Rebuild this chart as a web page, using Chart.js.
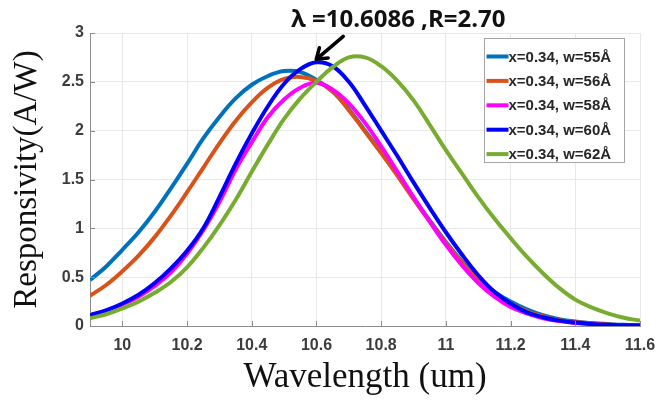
<!DOCTYPE html>
<html lang="en">
<head>
  <meta charset="UTF-8">
  <title>Responsivity vs Wavelength</title>
  <script src="https://cdn.jsdelivr.net/npm/chart.js"></script>
  <style>
    html, body { margin: 0; padding: 0; background: #fff; }
    #wrap { width: 657px; height: 403px; }
  </style>
</head>
<body>
  <div id="wrap"><canvas id="respChart" width="657" height="403"></canvas></div>

  <script>
    // Wavelength samples (um)
    const wavelength = [9.90, 9.95, 10.00, 10.05, 10.10, 10.15, 10.20, 10.25, 10.30, 10.35,
      10.40, 10.45, 10.50, 10.55, 10.60, 10.65, 10.70, 10.75, 10.80, 10.85,
      10.90, 10.95, 11.00, 11.05, 11.10, 11.15, 11.20, 11.25, 11.30, 11.35,
      11.40, 11.45, 11.50, 11.55, 11.60];

    // Responsivity (A/W)
    const w55 = [0.47, 0.61, 0.78, 0.96, 1.17, 1.41, 1.66, 1.92, 2.14, 2.33,
      2.47, 2.56, 2.61, 2.60, 2.52, 2.40, 2.22, 2.00, 1.78, 1.55,
      1.31, 1.08, 0.86, 0.66, 0.48, 0.35, 0.25, 0.17, 0.11, 0.07,
      0.045, 0.03, 0.02, 0.012, 0.008];
    const w56 = [0.31, 0.42, 0.56, 0.72, 0.91, 1.13, 1.37, 1.62, 1.87, 2.10,
      2.29, 2.44, 2.53, 2.55, 2.51, 2.40, 2.21, 1.99, 1.77, 1.54,
      1.30, 1.07, 0.85, 0.65, 0.47, 0.33, 0.23, 0.15, 0.10, 0.06,
      0.04, 0.025, 0.015, 0.01, 0.006];
    const w58 = [0.11, 0.16, 0.22, 0.30, 0.41, 0.55, 0.74, 0.98, 1.27, 1.60,
      1.88, 2.14, 2.32, 2.44, 2.49, 2.42, 2.28, 2.08, 1.84, 1.58,
      1.32, 1.07, 0.83, 0.62, 0.44, 0.30, 0.195, 0.13, 0.08, 0.05,
      0.03, 0.018, 0.01, 0.006, 0.004];
    const w60 = [0.11, 0.16, 0.23, 0.32, 0.44, 0.59, 0.77, 1.00, 1.32, 1.66,
      1.97, 2.25, 2.48, 2.63, 2.70, 2.66, 2.50, 2.26, 2.00, 1.74,
      1.47, 1.21, 0.96, 0.73, 0.52, 0.35, 0.23, 0.14, 0.09, 0.055,
      0.035, 0.02, 0.012, 0.008, 0.005];
    const w62 = [0.08, 0.12, 0.18, 0.25, 0.34, 0.45, 0.60, 0.80, 1.03, 1.29,
      1.58, 1.86, 2.12, 2.33, 2.50, 2.65, 2.75, 2.75, 2.66, 2.51,
      2.31, 2.06, 1.80, 1.56, 1.32, 1.10, 0.90, 0.71, 0.54, 0.39,
      0.27, 0.19, 0.13, 0.085, 0.055];

    const seriesValues = [w55, w56, w58, w60, w62];
    const seriesLabels = ['x=0.34, w=55Å', 'x=0.34, w=56Å', 'x=0.34, w=58Å', 'x=0.34, w=60Å', 'x=0.34, w=62Å'];
    const seriesColors = ['#0072BD', '#D95319', '#FF00FF', '#0000FF', '#77AC30'];

    const xTicks = [10, 10.2, 10.4, 10.6, 10.8, 11, 11.2, 11.4, 11.6];
    const yTicks = [0, 0.5, 1, 1.5, 2, 2.5, 3];

    // marked peak
    const peakX = 10.6086;
    const peakY = 2.70;

    const tickFont = { family: "'Liberation Sans', Arial, sans-serif", size: 16, weight: 'bold' };
    const titleFamily = "'Liberation Serif', 'Times New Roman', serif";

    // inward ticks, legend box and the peak annotation
    const extras = {
      id: 'extras',
      afterDraw(chart) {
        const { ctx, chartArea: a, scales: { x, y } } = chart;
        ctx.save();

        ctx.strokeStyle = '#8c8c8c';
        ctx.lineWidth = 1;
        ctx.beginPath();
        xTicks.forEach(v => {
          const px = Math.round(x.getPixelForValue(v)) + 0.5;
          ctx.moveTo(px, a.bottom);
          ctx.lineTo(px, a.bottom - 5);
        });
        yTicks.forEach(v => {
          const py = Math.round(y.getPixelForValue(v)) + 0.5;
          ctx.moveTo(a.left, py);
          ctx.lineTo(a.left + 5, py);
        });
        ctx.stroke();

        // legend
        const boxW = 140, boxH = 124;
        const bx = Math.round(a.right - 16 - boxW) + 0.5;
        const by = Math.round(a.top + 5) + 0.5;
        ctx.fillStyle = '#fff';
        ctx.fillRect(bx, by, boxW, boxH);
        ctx.strokeStyle = '#a6a6a6';
        ctx.lineWidth = 1;
        ctx.strokeRect(bx, by, boxW, boxH);
        ctx.font = "bold 15px 'Liberation Sans', Arial, sans-serif";
        ctx.textBaseline = 'middle';
        ctx.textAlign = 'left';
        chart.data.datasets.forEach((ds, i) => {
          const ry = by + 18 + i * 24.4;
          ctx.strokeStyle = ds.borderColor;
          ctx.lineWidth = 4;
          ctx.beginPath();
          ctx.moveTo(bx + 2, ry);
          ctx.lineTo(bx + 24, ry);
          ctx.stroke();
          ctx.fillStyle = '#262626';
          ctx.fillText(ds.label, bx + 24, ry + 1);
        });

        // annotation
        const px = x.getPixelForValue(peakX);
        const py = y.getPixelForValue(peakY);
        const tipX = px - 3, tipY = py - 3;
        const tailX = px + 24, tailY = py - 26;
        ctx.strokeStyle = '#000';
        ctx.lineWidth = 3.5;
        ctx.lineCap = 'round';
        ctx.beginPath();
        ctx.moveTo(tailX, tailY);
        ctx.lineTo(tipX, tipY);
        const ang = Math.atan2(tipY - tailY, tipX - tailX);
        const hl = 12;
        ctx.moveTo(tipX, tipY);
        ctx.lineTo(tipX - hl * Math.cos(ang - 0.6), tipY - hl * Math.sin(ang - 0.6));
        ctx.moveTo(tipX, tipY);
        ctx.lineTo(tipX - hl * Math.cos(ang + 0.6), tipY - hl * Math.sin(ang + 0.6));
        ctx.stroke();

        ctx.fillStyle = '#111';
        ctx.font = "bold 24px 'Open Sans', 'Noto Sans', sans-serif";
        ctx.textAlign = 'center';
        ctx.textBaseline = 'alphabetic';
        ctx.fillText('λ =' + peakX.toFixed(4) + ' ,R=' + peakY.toFixed(2), px + 79, py - 35);

        ctx.restore();
      }
    };

    new Chart(document.getElementById('respChart'), {
      type: 'line',
      data: {
        datasets: seriesValues.map((vals, i) => ({
          label: seriesLabels[i],
          data: wavelength.map((w, k) => ({ x: w, y: vals[k] })),
          borderColor: seriesColors[i],
          backgroundColor: seriesColors[i],
          borderWidth: 4,
          pointRadius: 0,
          fill: false,
          tension: 0.4,
          order: seriesValues.length - 1 - i
        }))
      },
      options: {
        responsive: false,
        animation: false,
        devicePixelRatio: 1,
        layout: { padding: { top: 33, right: 17, left: 0, bottom: 0 } },
        plugins: {
          legend: { display: false },
          tooltip: { enabled: false }
        },
        scales: {
          x: {
            type: 'linear',
            min: 9.9,
            max: 11.6,
            afterBuildTicks: s => { s.ticks = xTicks.map(v => ({ value: v })); },
            afterFit: s => { s.height = 77; s.paddingRight = 0; },
            grid: { color: '#e8e8e8', drawTicks: false },
            border: { color: '#8c8c8c' },
            ticks: {
              padding: 10, color: '#3c3c3c', font: tickFont,
              maxRotation: 0, autoSkip: false,
              callback: v => String(v)
            },
            title: {
              display: true, text: 'Wavelength (um)', color: '#111',
              font: { family: titleFamily, size: 35 },
              padding: { top: 0, bottom: 4 }
            }
          },
          y: {
            type: 'linear',
            min: 0,
            max: 3,
            afterBuildTicks: s => { s.ticks = yTicks.map(v => ({ value: v })); },
            afterFit: s => { s.width = 90; },
            grid: { color: '#e8e8e8', drawTicks: false },
            border: { color: '#8c8c8c' },
            ticks: {
              padding: 6, color: '#3c3c3c', font: tickFont,
              callback: v => String(v)
            },
            title: {
              display: true, text: 'Responsivity(A/W)', color: '#111',
              font: { family: titleFamily, size: 33 },
              padding: { top: 8, bottom: 0 }
            }
          }
        }
      },
      plugins: [extras]
    });
  </script>
</body>
</html>
